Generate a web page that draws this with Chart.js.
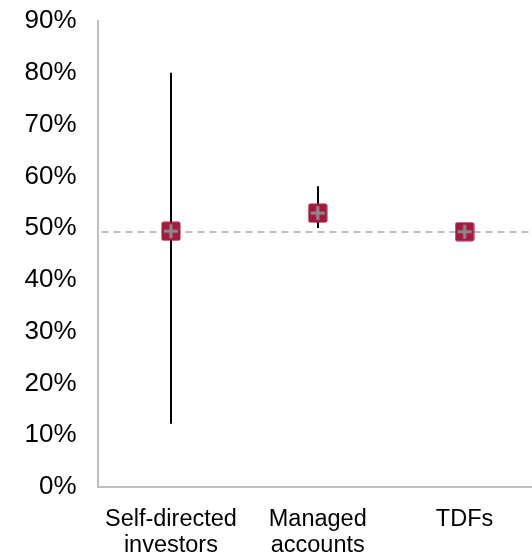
<!DOCTYPE html>
<html>
<head>
<meta charset="utf-8">
<script src="https://cdn.jsdelivr.net/npm/chart.js@4/dist/chart.umd.min.js"></script>
<style>
  html, body { margin: 0; padding: 0; background: #fff; overflow: hidden; }
  #wrap { width: 549px; height: 554px; }
</style>
</head>
<body>
<div id="wrap"><canvas id="c" width="549" height="554"></canvas></div>
<script>
// Allocation categories and their central estimate with the low/high range
const categories = [['Self-directed', 'investors'], ['Managed', 'accounts'], 'TDFs'];
const centralValues = [49.4, 52.9, 49.3];
const lowValues = [12.2, 50.0, null];
const highValues = [80.0, 58.1, null];
const referenceLevel = 49.3;
const yTicks = [0, 10, 20, 30, 40, 50, 60, 70, 80, 90];

const FAMILY = 'Liberation Sans, Arial, sans-serif';

// Square marker with a gray cross, used as a point style
function makeMarker() {
  const s = 20;
  const cv = document.createElement('canvas');
  cv.width = s; cv.height = s;
  const g = cv.getContext('2d');
  const r = 2.5;
  g.fillStyle = '#A31A3E';
  g.beginPath();
  g.moveTo(r, 0.5);
  g.lineTo(s - r, 0.5);
  g.quadraticCurveTo(s - 0.5, 0.5, s - 0.5, r);
  g.lineTo(s - 0.5, s - r);
  g.quadraticCurveTo(s - 0.5, s - 0.5, s - r, s - 0.5);
  g.lineTo(r, s - 0.5);
  g.quadraticCurveTo(0.5, s - 0.5, 0.5, s - r);
  g.lineTo(0.5, r);
  g.quadraticCurveTo(0.5, 0.5, r, 0.5);
  g.fill();
  g.strokeStyle = '#8C8C8C';
  g.lineWidth = 3;
  g.beginPath();
  g.moveTo(s / 2, 3); g.lineTo(s / 2, s - 3);
  g.moveTo(3, s / 2); g.lineTo(s - 3, s / 2);
  g.stroke();
  return cv;
}

// Range whiskers and the dashed reference line, drawn beneath the markers
const underlay = {
  id: 'underlay',
  beforeDatasetsDraw(chart) {
    const { ctx, chartArea, scales } = chart;
    const x = scales.x, y = scales.y;
    ctx.save();
    ctx.strokeStyle = '#BFBFBF';
    ctx.lineWidth = 2;
    ctx.setLineDash([7, 5]);
    const yr = Math.round(y.getPixelForValue(referenceLevel));
    ctx.beginPath();
    ctx.moveTo(chartArea.left + 4, yr);
    ctx.lineTo(chart.width, yr);
    ctx.stroke();
    ctx.setLineDash([]);
    ctx.strokeStyle = '#000';
    ctx.lineWidth = 2;
    categories.forEach((c, i) => {
      if (lowValues[i] == null || highValues[i] == null) return;
      const px = Math.round(x.getPixelForValue(i));
      ctx.beginPath();
      ctx.moveTo(px, y.getPixelForValue(lowValues[i]));
      ctx.lineTo(px, y.getPixelForValue(highValues[i]));
      ctx.stroke();
    });
    ctx.restore();
  }
};

new Chart(document.getElementById('c'), {
  type: 'line',
  data: {
    labels: categories,
    datasets: [{
      data: centralValues,
      showLine: false,
      pointStyle: makeMarker(),
      pointRadius: 10,
      pointHoverRadius: 10
    }]
  },
  options: {
    responsive: false,
    animation: false,
    events: [],
    layout: { padding: { top: 21, left: 0, right: 0, bottom: 0 } },
    plugins: { legend: { display: false }, tooltip: { enabled: false } },
    scales: {
      x: {
        offset: true,
        grid: { display: false, drawTicks: false },
        border: { color: '#BFBFBF', width: 2 },
        ticks: { color: '#000', font: { family: FAMILY, size: 23.5, lineHeight: 1.08 }, padding: 20, maxRotation: 0, autoSkip: false },
        afterFit(s) { s.height = 67; s.paddingLeft = 0; s.paddingRight = 0; }
      },
      y: {
        min: 0, max: 90,
        grid: { display: false, drawTicks: false },
        border: { color: '#BFBFBF', width: 2 },
        afterBuildTicks(s) { s.ticks = yTicks.map(v => ({ value: v })); },
        ticks: { color: '#000', font: { family: FAMILY, size: 26 }, padding: 21, callback: v => v + '%' },
        afterFit(s) { s.width = 97.5; s.paddingTop = 0; s.paddingBottom = 0; }
      }
    }
  },
  plugins: [underlay]
});
</script>
</body>
</html>
